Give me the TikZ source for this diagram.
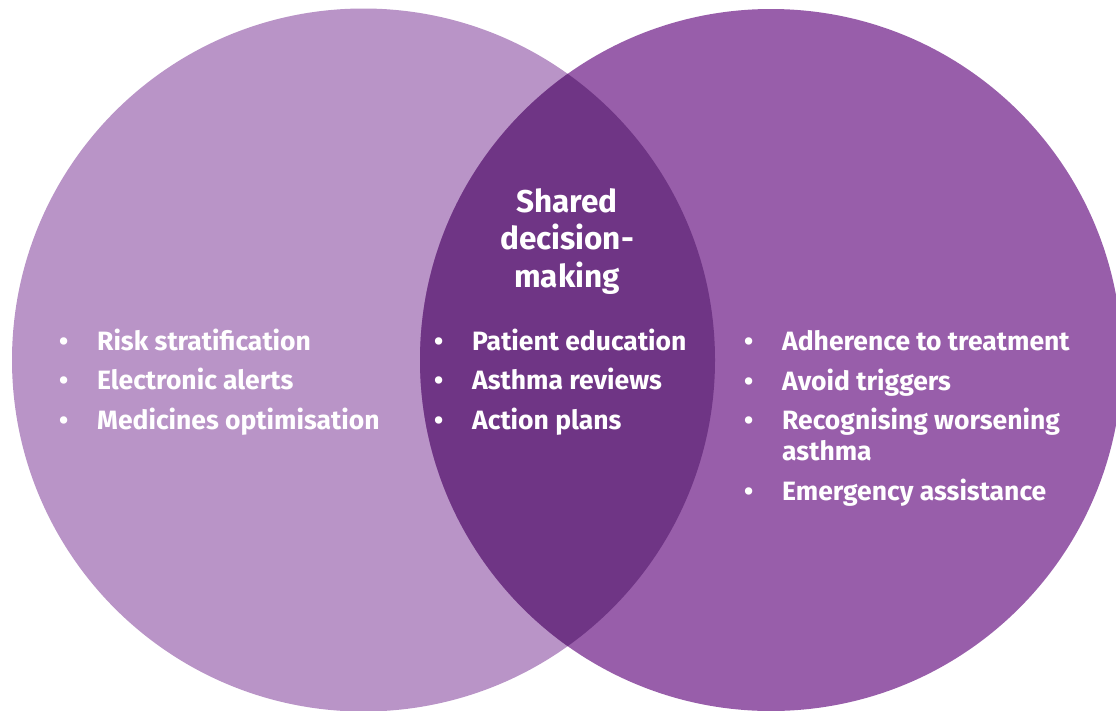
\documentclass[tikz,border=0pt]{standalone}
\usepackage{fontspec}
\setmainfont{Fira Sans}
\usepackage{tikz}
\usetikzlibrary{positioning}
\definecolor{VennLeft}{RGB}{185,148,199}
\definecolor{VennRight}{RGB}{152,94,170}
\definecolor{VennShared}{RGB}{111,53,133}
\newcommand{\bitem}[1]{\makebox[35pt][l]{\hspace*{-3pt}\textbullet}#1}
\newcommand{\bcont}[1]{\hspace*{35pt}#1}
\tikzset{
    listnode/.style={text=white, font=\bfseries\fontsize{26.5}{31}\selectfont, align=left, inner sep=0pt, anchor=base west},
    titlenode/.style={text=white, font=\bfseries\fontsize{31.5}{37.5}\selectfont, align=center, inner sep=0pt}
}

\begin{document}
\begin{tikzpicture}[x=1pt, y=-1pt]
    \useasboundingbox (0,0) rectangle (1116,710);
    \clip (0,0) rectangle (1116,710);
    % two circles and the overlap
    \fill[VennLeft] (363.5,360) circle[radius=351.5pt];
    \fill[VennRight] (771,360) circle[radius=351pt];
    \begin{scope}
        \clip (363.5,360) circle[radius=351.5pt];
        \fill[VennShared] (771,360) circle[radius=351pt];
    \end{scope}
    % texts (base anchor sits on the last line)
    \node[titlenode, anchor=base] (sharedTitle) at (567,287) {Shared\\decision-\\making};
    \node[listnode] (clinicList) at (62,429) {\bitem{Risk stratification}\\[8.5pt]
        \bitem{Electronic alerts}\\[8.5pt]
        \bitem{Medicines optimisation}};
    \node[listnode] (sharedList) at (437,429) {\bitem{Patient education}\\[8.5pt]
        \bitem{Asthma reviews}\\[8.5pt]
        \bitem{Action plans}};
    \node[listnode] (patientList) at (747,500) {\bitem{Adherence to treatment}\\[8.5pt]
        \bitem{Avoid triggers}\\[8.5pt]
        \bitem{Recognising worsening}\\
        \bcont{asthma}\\[8.5pt]
        \bitem{Emergency assistance}};
\end{tikzpicture}
\end{document}
